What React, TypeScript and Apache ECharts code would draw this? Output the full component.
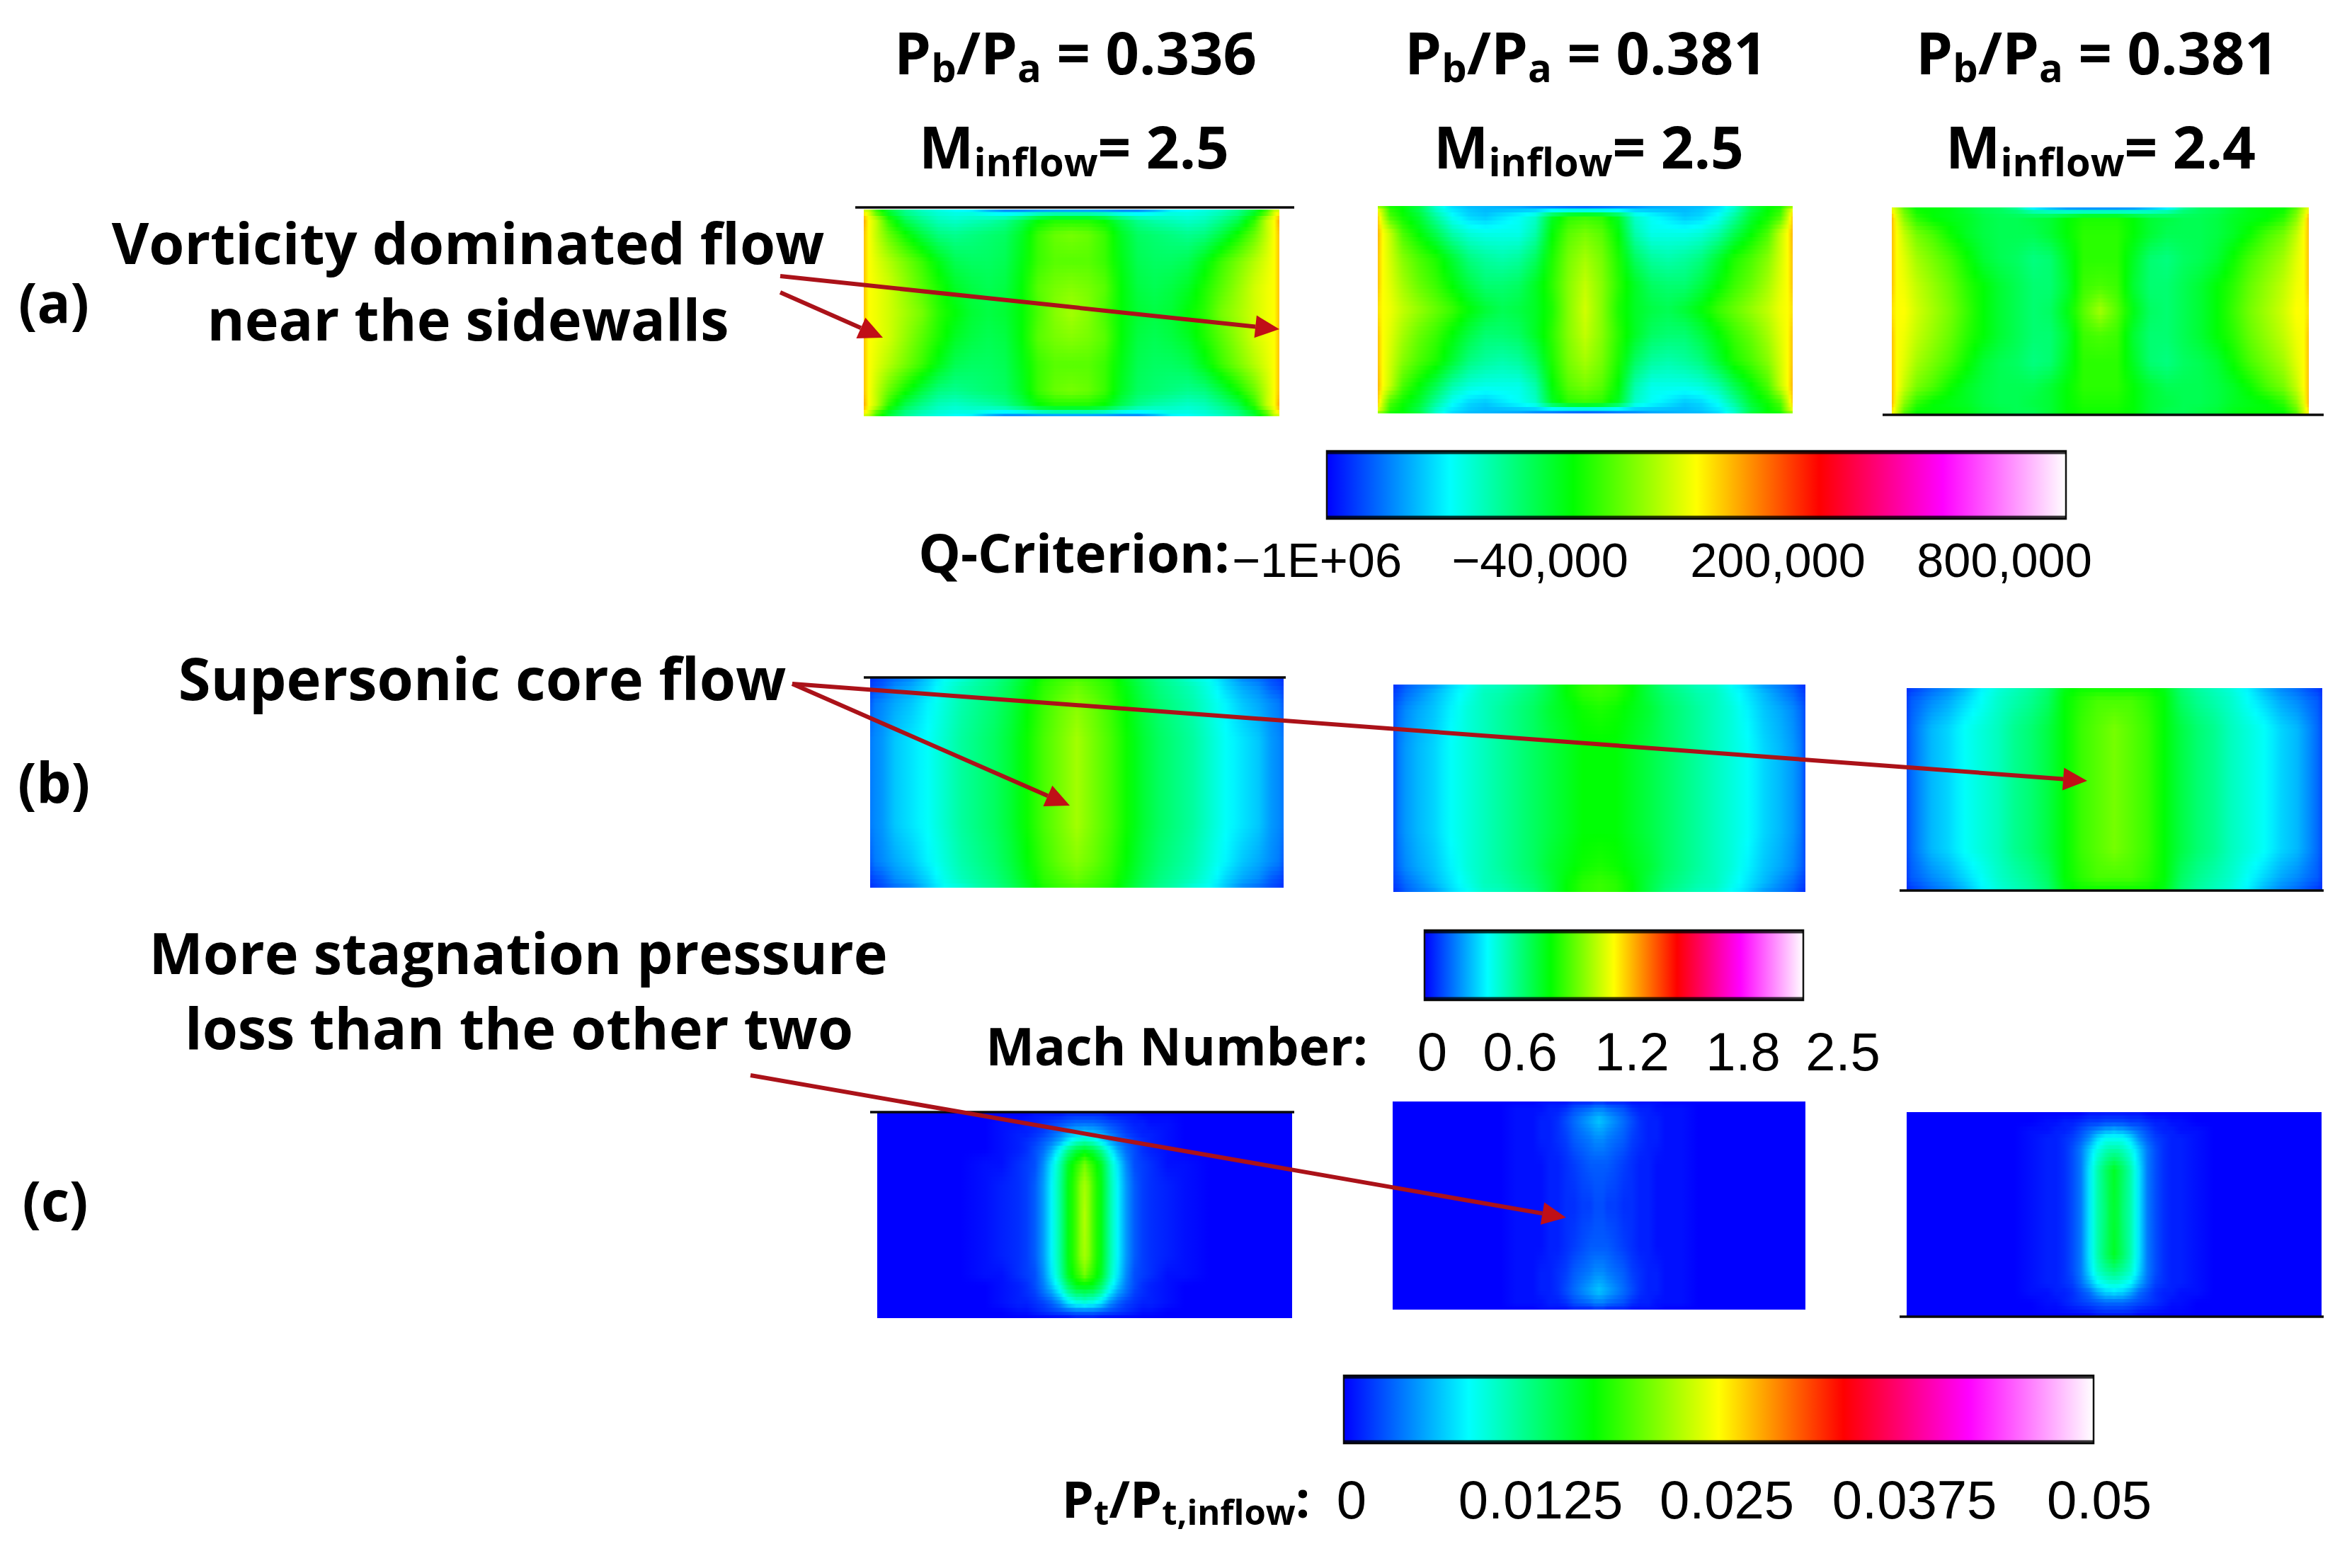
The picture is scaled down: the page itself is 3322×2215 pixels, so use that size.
import React, { useEffect, useRef } from "react";
import * as echarts from "echarts";

const WIDTH = 3322;
const HEIGHT = 2215;

// Colour scale shared by all contour plots and colour bars (values run 0..100 along it)
const colorRamp = ["#0000ff", "#00ffff", "#00ff00", "#ffff00", "#ff0000", "#ff00ff", "#ffffff"];

// Half-width sample positions (edge to centre); contours are mirror-symmetric about the duct centre
const sideColumns = [0, 0.012, 0.03, 0.06, 0.1, 0.14, 0.18, 0.22, 0.26, 0.3, 0.34, 0.38, 0.42, 0.46, 0.5];
const coreColumns = [0, 0.1, 0.2, 0.26, 0.3, 0.34, 0.36, 0.38, 0.4, 0.42, 0.44, 0.46, 0.48, 0.49, 0.5];

// (a) Q-criterion, panel 1
const a1Y = [0, 0.012, 0.05, 0.12, 0.25, 0.38, 0.5, 0.62, 0.75, 0.88, 0.95, 0.988, 1];
const a1Top = [45, 45, 38, 30, 24, 20, 18, 16, 14, 8, 5, 4, 4, 4, 4];
const a1R1 = [50, 47, 38, 30, 24, 21, 19, 18, 18, 16, 14, 15, 17, 18, 18];
const a1R2 = [56, 50, 46, 36, 28, 24, 21, 20, 21, 22, 24, 28, 33, 35, 35];
const a1R3 = [54, 50, 46, 40, 34, 29, 25, 24, 25, 26, 27, 31, 37, 40, 41];
const a1R4 = [54, 50, 48, 45, 41, 37, 32, 28, 27, 27, 28, 32, 37, 39, 39];
const a1R5 = [54, 50, 49, 47, 43, 39, 35, 31, 29, 28, 29, 33, 39, 41, 42];
const a1R6 = [54, 50, 49, 47, 44, 41, 36, 33, 30, 29, 30, 33, 38, 42, 44];
const a1Rows = [a1Top, a1R1, a1R2, a1R3, a1R4, a1R5, a1R6, a1R5, a1R4, a1R3, a1R2, a1R1, a1Top];

// (a) Q-criterion, panel 2
const a2Y = [0, 0.012, 0.05, 0.13, 0.25, 0.38, 0.5, 0.62, 0.75, 0.87, 0.95, 0.988, 1];
const a2Top = [40, 38, 34, 33, 30, 20, 14, 12, 12, 11, 10, 7, 5, 3, 2];
const a2R1 = [48, 44, 36, 33, 28, 20, 15, 13, 12, 12, 12, 12, 12, 12, 12];
const a2R2 = [53, 46, 38, 34, 30, 23, 17, 14, 13, 15, 17, 20, 31, 36, 37];
const a2R3 = [55, 50, 46, 38, 33, 28, 22, 19, 18, 18, 18, 22, 33, 39, 41];
const a2R4 = [54, 50, 47, 42, 38, 35, 30, 25, 23, 22, 23, 27, 35, 41, 44];
const a2R5 = [54, 50, 48, 44, 40, 37, 33, 29, 26, 26, 27, 31, 36, 42, 46];
const a2R6 = [52, 50, 49, 46, 43, 40, 37, 33, 30, 28, 29, 31, 35, 42, 47];
const a2Rows = [a2Top, a2R1, a2R2, a2R3, a2R4, a2R5, a2R6, a2R5, a2R4, a2R3, a2R2, a2R1, a2Top];

// (a) Q-criterion, panel 3
const a3Y = [0, 0.012, 0.05, 0.13, 0.25, 0.38, 0.5, 0.62, 0.75, 0.87, 0.95, 1];
const a3Top = [48, 45, 38, 33, 33, 32, 30, 28, 27, 22, 12, 8, 5, 4, 4];
const a3R1 = [50, 46, 40, 34, 33, 32, 30, 28, 27, 25, 20, 18, 16, 16, 16];
const a3R2 = [55, 48, 42, 36, 33, 32, 31, 29, 28, 28, 29, 30, 33, 35, 35];
const a3R3 = [54, 50, 46, 41, 38, 34, 31, 29, 28, 28, 28, 30, 33, 36, 36];
const a3R4 = [54, 50, 48, 44, 41, 38, 34, 30, 28, 27, 25, 26, 31, 36, 36];
const a3R5 = [54, 50, 49, 46, 43, 40, 36, 33, 30, 28, 26, 26, 30, 37, 38];
const a3R6 = [52, 50, 50, 47, 44, 41, 37, 33, 30, 28, 26, 27, 32, 39, 44];
const a3Bottom = [50, 46, 38, 33, 33, 33, 32, 30, 29, 28, 28, 30, 33, 34, 34];
const a3Rows = [a3Top, a3R1, a3R2, a3R3, a3R4, a3R5, a3R6, a3R5, a3R4, a3R3, a3R2, a3Bottom];

// (b) Mach number, panel 1
const b1Y = [0, 0.04, 0.12, 0.3, 0.5, 0.7, 0.88, 0.96, 1];
const b1Edge = [3, 4, 5, 7, 9, 13, 17, 19, 22, 24, 27, 31, 35, 37, 38];
const b1R1 = [4, 5, 6, 9, 11, 14, 18, 21, 23, 25, 28, 32, 36, 38, 40];
const b1R2 = [6, 8, 9, 11, 13, 16, 19, 22, 24, 26, 29, 33, 37, 40, 42];
const b1Mid = [8, 9, 10, 13, 15, 17, 20, 23, 25, 27, 30, 34, 38, 41, 44];
const b1Rows = [b1Edge, b1R1, b1R2, b1Mid, b1Mid, b1Mid, b1R2, b1R1, b1Edge];

// (b) Mach number, panel 2
const b2Y = [0, 0.04, 0.12, 0.3, 0.5, 0.7, 0.88, 0.96, 1];
const b2Edge = [3, 4, 6, 8, 10, 14, 17, 20, 21, 23, 25, 29, 33, 36, 37];
const b2R1 = [4, 5, 7, 9, 12, 15, 18, 21, 22, 24, 26, 29, 33, 36, 37];
const b2R2 = [5, 7, 9, 11, 13, 16, 19, 21, 23, 25, 27, 30, 32, 34, 35];
const b2Mid = [5, 8, 10, 12, 14, 17, 19, 21, 23, 25, 27, 29, 31, 33, 33];
const b2Rows = [b2Edge, b2R1, b2R2, b2Mid, b2Mid, b2Mid, b2R2, b2R1, b2Edge];

// (b) Mach number, panel 3
const b3Y = [0, 0.06, 0.2, 0.5, 0.8, 0.94, 1];
const b3Edge = [3, 4, 5, 7, 9, 12, 16, 19, 21, 23, 26, 32, 34, 34, 34];
const b3R1 = [4, 6, 7, 9, 11, 14, 17, 20, 22, 24, 27, 33, 36, 38, 38];
const b3Mid = [5, 7, 9, 12, 14, 17, 19, 21, 24, 26, 29, 33, 37, 39, 41];
const b3Rows = [b3Edge, b3R1, b3Mid, b3Mid, b3Mid, b3R1, b3Edge];

// (c) Total pressure loss, panel 1
const c1Y = [0, 0.05, 0.1, 0.14, 0.18, 0.25, 0.35, 0.5, 0.7, 0.79, 0.84, 0.88, 0.93, 0.97, 1];
const c1R0 = [0, 0, 0, 0, 0, 0, 0, 1, 1, 1, 1, 2, 2, 2, 2];
const c1R1 = [0, 0, 0, 0, 1, 1, 2, 2, 3, 4, 5, 6, 7, 7, 7];
const c1R2 = [0, 0, 0, 0, 1, 2, 2, 3, 4, 6, 8, 11, 13, 13, 14];
const c1R3 = [0, 0, 0, 0, 1, 2, 3, 4, 6, 8, 11, 16, 20, 21, 22];
const c1R4 = [0, 0, 0, 0, 1, 2, 3, 5, 7, 11, 17, 24, 29, 30, 31];
const c1R5 = [0, 0, 0, 1, 1, 3, 4, 5, 9, 15, 22, 31, 36, 38, 41];
const c1R6 = [0, 0, 0, 1, 2, 3, 4, 6, 10, 16, 23, 32, 38, 42, 44];
const c1R7 = [0, 0, 0, 1, 2, 3, 4, 6, 10, 16, 23, 32, 38, 42, 45];
const c1R10 = [0, 0, 0, 0, 1, 2, 3, 5, 8, 13, 19, 27, 32, 33, 33];
const c1R11 = [0, 0, 0, 0, 1, 2, 3, 4, 7, 10, 15, 22, 26, 26, 27];
const c1R12 = [0, 0, 0, 0, 1, 2, 2, 3, 4, 6, 9, 14, 17, 17, 18];
const c1R13 = [0, 0, 0, 0, 0, 1, 1, 2, 3, 4, 5, 6, 7, 7, 7];
const c1R14 = [0, 0, 0, 0, 0, 0, 0, 0, 0, 0, 0, 0, 1, 1, 1];
const c1Rows = [c1R0, c1R1, c1R2, c1R3, c1R4, c1R5, c1R6, c1R7, c1R6, c1R5, c1R10, c1R11, c1R12, c1R13, c1R14];

// (c) Total pressure loss, panel 2
const c2Y = [0, 0.03, 0.09, 0.18, 0.3, 0.5, 0.7, 0.82, 0.91, 0.97, 1];
const c2R0 = [0, 0, 0, 0, 0, 0, 1, 1, 1, 1, 2, 2, 2, 3, 3];
const c2R1 = [0, 0, 0, 0, 1, 1, 1, 2, 2, 3, 5, 6, 7, 8, 8];
const c2R2 = [0, 0, 0, 0, 1, 1, 2, 2, 3, 5, 7, 9, 11, 12, 13];
const c2R3 = [0, 0, 0, 0, 1, 1, 2, 2, 3, 4, 6, 7, 8, 9, 9];
const c2R4 = [0, 0, 0, 0, 1, 1, 1, 2, 2, 3, 4, 5, 6, 6, 6];
const c2R5 = [0, 0, 0, 0, 1, 1, 1, 2, 2, 3, 3, 4, 4, 5, 5];
const c2Rows = [c2R0, c2R1, c2R2, c2R3, c2R4, c2R5, c2R4, c2R3, c2R2, c2R1, c2R0];

// (c) Total pressure loss, panel 3
const c3Y = [0, 0.05, 0.09, 0.125, 0.18, 0.28, 0.5, 0.7, 0.78, 0.84, 0.88, 0.93, 1];
const c3R0 = [0, 0, 0, 0, 0, 0, 0, 0, 0, 0, 1, 1, 1, 1, 1];
const c3R1 = [0, 0, 0, 0, 0, 1, 1, 2, 2, 3, 4, 4, 5, 5, 5];
const c3R2 = [0, 0, 0, 0, 1, 1, 2, 2, 3, 5, 7, 9, 11, 11, 12];
const c3R3 = [0, 0, 0, 0, 1, 2, 2, 3, 4, 6, 9, 14, 17, 17, 17];
const c3R4 = [0, 0, 0, 0, 1, 2, 2, 3, 5, 8, 13, 18, 21, 22, 22];
const c3R5 = [0, 0, 0, 0, 1, 2, 2, 3, 5, 8, 15, 22, 27, 29, 31];
const c3R6 = [0, 0, 0, 0, 1, 2, 2, 3, 5, 8, 15, 22, 26, 29, 30];
const c3R8 = [0, 0, 0, 0, 1, 2, 2, 3, 5, 8, 14, 20, 23, 24, 25];
const c3R9 = [0, 0, 0, 0, 1, 2, 2, 3, 4, 7, 11, 16, 18, 19, 19];
const c3R10 = [0, 0, 0, 0, 1, 1, 2, 2, 3, 5, 7, 11, 14, 14, 15];
const c3R11 = [0, 0, 0, 0, 0, 1, 1, 2, 3, 4, 5, 6, 7, 7, 7];
const c3R12 = [0, 0, 0, 0, 0, 0, 0, 0, 0, 0, 0, 1, 1, 1, 1];
const c3Rows = [c3R0, c3R1, c3R2, c3R3, c3R4, c3R5, c3R6, c3R5, c3R8, c3R9, c3R10, c3R11, c3R12];

// Tick labels
const qTicks = ["\u22121E+06", "\u221240,000", "200,000", "800,000"];
const machTicks = ["0", "0.6", "1.2", "1.8", "2.5"];
const lossTicks = ["0", "0.0125", "0.025", "0.0375", "0.05"];
const pressureRatios = ["0.336", "0.381", "0.381"];
const inflowMach = ["2.5", "2.5", "2.4"];

// Layout
const panelTable = [
  { rect: [1220, 296, 587, 292], cols: sideColumns, y: a1Y, rows: a1Rows },
  { rect: [1946, 291, 586, 293], cols: sideColumns, y: a2Y, rows: a2Rows },
  { rect: [2672, 293, 589, 292], cols: sideColumns, y: a3Y, rows: a3Rows },
  { rect: [1229, 957, 584, 297], cols: sideColumns, y: b1Y, rows: b1Rows },
  { rect: [1968, 967, 582, 293], cols: sideColumns, y: b2Y, rows: b2Rows },
  { rect: [2693, 972, 587, 285], cols: sideColumns, y: b3Y, rows: b3Rows },
  { rect: [1239, 1572, 586, 290], cols: coreColumns, y: c1Y, rows: c1Rows },
  { rect: [1967, 1556, 583, 294], cols: coreColumns, y: c2Y, rows: c2Rows },
  { rect: [2693, 1571, 586, 289], cols: coreColumns, y: c3Y, rows: c3Rows },
];
const STRIP_PX = 6;

const BOLD = "'Open Sans', sans-serif";
const PLAIN = "'Liberation Sans', Arial, sans-serif";
const INK = "#000000";
const ARROW = "#ab1219";

const mirror = (half: number[]) => [...half, ...half.slice(0, -1).reverse()];
const mirrorX = (half: number[]) => [...half, ...half.slice(0, -1).reverse().map((x) => 1 - x)];
const toColor = (v: number) => echarts.color.lerp(Math.min(1, Math.max(0, v / 100)), colorRamp) as string;

function rowGradient(xs: number[], top: number[], bottom: number[], t: number) {
  const stops: { offset: number; color: string }[] = [];
  const val = (i: number) => top[i] + (bottom[i] - top[i]) * t;
  xs.forEach((x, i) => {
    stops.push({ offset: x, color: toColor(val(i)) });
    if (i < xs.length - 1) {
      stops.push({ offset: (x + xs[i + 1]) / 2, color: toColor((val(i) + val(i + 1)) / 2) });
    }
  });
  return new echarts.graphic.LinearGradient(0, 0, 1, 0, stops);
}

function panelSeries(index: number) {
  const panel = panelTable[index];
  const xs = mirrorX(panel.cols);
  const rows = panel.rows.map(mirror);
  const ys = panel.y;
  return {
    type: "custom",
    xAxisIndex: index,
    yAxisIndex: index,
    silent: true,
    clip: true,
    data: ys.slice(0, -1).map((y, k) => [0, y, k]),
    renderItem: (params: any, api: any) => {
      const k = api.value(2);
      const a = api.coord([0, ys[k]]);
      const b = api.coord([1, ys[k + 1]]);
      const h = b[1] - a[1];
      const n = Math.max(1, Math.ceil(h / STRIP_PX));
      const children = [];
      for (let s = 0; s < n; s++) {
        children.push({
          type: "rect",
          shape: { x: a[0], y: a[1] + (h * s) / n, width: b[0] - a[0], height: h / n + 0.8 },
          style: { fill: rowGradient(xs, rows[k], rows[k + 1], (s + 0.5) / n) },
        });
      }
      return { type: "group", children };
    },
  };
}

function text(x: number, y: number, value: string, font: number, bold: boolean, extra: any = {}) {
  return {
    type: "text",
    x,
    y,
    z: 20,
    style: {
      text: value,
      fontSize: font,
      fontFamily: bold ? BOLD : PLAIN,
      fontWeight: bold ? 700 : 400,
      fill: INK,
      align: "center",
      verticalAlign: "middle",
      ...extra,
    },
  };
}

function subText(x: number, y: number, value: string, font: number, align = "center") {
  const sub = Math.round(font * 0.68);
  return text(x, y, value, font, true, {
    align,
    lineHeight: Math.round(font * 1.2),
    rich: {
      s: {
        fontSize: sub,
        fontFamily: BOLD,
        fontWeight: 700,
        fill: INK,
        verticalAlign: "bottom",
        lineHeight: Math.round(font * 0.38),
      },
    },
  });
}

function arrow(x1: number, y1: number, x2: number, y2: number) {
  const len = Math.hypot(x2 - x1, y2 - y1);
  const ux = (x2 - x1) / len;
  const uy = (y2 - y1) / len;
  const headL = 34;
  const headW = 16;
  const bx = x2 - ux * headL;
  const by = y2 - uy * headL;
  return [
    {
      type: "line",
      z: 15,
      shape: { x1, y1, x2: bx, y2: by },
      style: { stroke: ARROW, lineWidth: 6 },
    },
    {
      type: "polygon",
      z: 15,
      shape: {
        points: [
          [x2, y2],
          [bx - uy * headW, by + ux * headW],
          [bx + uy * headW, by - ux * headW],
        ],
      },
      style: { fill: "#c00f17" },
    },
  ];
}

function colorBar(x: number, y: number, w: number, h: number) {
  const stops = colorRamp.map((color, i) => ({ offset: i / (colorRamp.length - 1), color }));
  return [
    {
      type: "rect",
      z: 10,
      shape: { x, y, width: w, height: h },
      style: {
        fill: new echarts.graphic.LinearGradient(0, 0, 1, 0, stops),
        stroke: "#111111",
        lineWidth: 2.5,
      },
    },
    { type: "line", z: 11, shape: { x1: x, y1: y + 2, x2: x + w, y2: y + 2 }, style: { stroke: "rgba(0,0,0,0.8)", lineWidth: 5 } },
    { type: "line", z: 11, shape: { x1: x, y1: y + h - 2, x2: x + w, y2: y + h - 2 }, style: { stroke: "rgba(0,0,0,0.8)", lineWidth: 5 } },
  ];
}

function rule(x1: number, x2: number, y: number) {
  return { type: "line", z: 12, shape: { x1, y1: y, x2, y2: y }, style: { stroke: "#0a0a0a", lineWidth: 3.5 } };
}

function buildGraphics() {
  const titleX = [1519, 2240, 2962];
  const machX = [1517, 2244, 2967];
  const els: any[] = [];
  pressureRatios.forEach((r, i) => {
    els.push(subText(titleX[i], 72, `P{s|b}/P{s|a} = ${r}`, 83));
  });
  inflowMach.forEach((m, i) => {
    els.push(subText(machX[i], 206, `M{s|inflow}= ${m}`, 82));
  });

  els.push(text(76, 426, "(a)", 78, true));
  els.push(text(76, 1104, "(b)", 78, true));
  els.push(text(78, 1695, "(c)", 78, true));

  els.push(text(661, 341, "Vorticity dominated flow", 81, true));
  els.push(text(661, 449, "near the sidewalls", 81, true));
  els.push(text(681, 956, "Supersonic core flow", 83, true));
  els.push(text(732, 1344, "More stagnation pressure", 81, true));
  els.push(text(733, 1450, "loss than the other two", 81, true));

  els.push(rule(1208, 1828, 293), rule(2659, 3282, 586));
  els.push(rule(1220, 1816, 957), rule(2683, 3282, 1258));
  els.push(rule(1229, 1828, 1571), rule(2683, 3282, 1860));

  els.push(...colorBar(1874, 637, 1044, 96));
  els.push(...colorBar(2012, 1314, 535, 99));
  els.push(...colorBar(1898, 1943, 1059, 96));

  els.push(text(1517, 780, "Q-Criterion:", 75, true));
  const qX = [1860, 2175, 2511, 2831];
  qTicks.forEach((t, i) => els.push(text(qX[i], 791, t, 68.5, false)));

  els.push(text(1662, 1476, "Mach Number:", 73, true));
  const mX = [2023, 2147, 2305, 2462, 2603];
  machTicks.forEach((t, i) => els.push(text(mX[i], 1485, t, 76, false)));

  els.push(subText(1675, 2116, "P{s|t}/P{s|t,inflow}:", 72));
  const lX = [1909, 2176, 2439, 2704, 2965];
  lossTicks.forEach((t, i) => els.push(text(lX[i], 2118, t, 76, false)));

  els.push(...arrow(1102, 390, 1807, 465));
  els.push(...arrow(1102, 413, 1247, 477));
  els.push(...arrow(1119, 966, 2948, 1103));
  els.push(...arrow(1119, 966, 1511, 1138));
  els.push(...arrow(1060, 1519, 2212, 1720));
  return els;
}

export default function App() {
  const ref = useRef<HTMLDivElement>(null);
  useEffect(() => {
    const chart = echarts.init(ref.current!, null, { renderer: "svg" });
    const axisBase = { type: "value", min: 0, max: 1, show: false };
    chart.setOption({
      animation: false,
      backgroundColor: "#ffffff",
      grid: panelTable.map((p) => ({
        left: p.rect[0],
        top: p.rect[1],
        width: p.rect[2],
        height: p.rect[3],
        containLabel: false,
      })),
      xAxis: panelTable.map((_, i) => ({ ...axisBase, gridIndex: i })),
      yAxis: panelTable.map((_, i) => ({ ...axisBase, gridIndex: i, inverse: true })),
      series: panelTable.map((_, i) => panelSeries(i)),
      graphic: { elements: buildGraphics() },
    });
    return () => chart.dispose();
  }, []);
  return <div ref={ref} style={{ position: "absolute", left: 0, top: 0, width: WIDTH, height: HEIGHT }} />;
}
